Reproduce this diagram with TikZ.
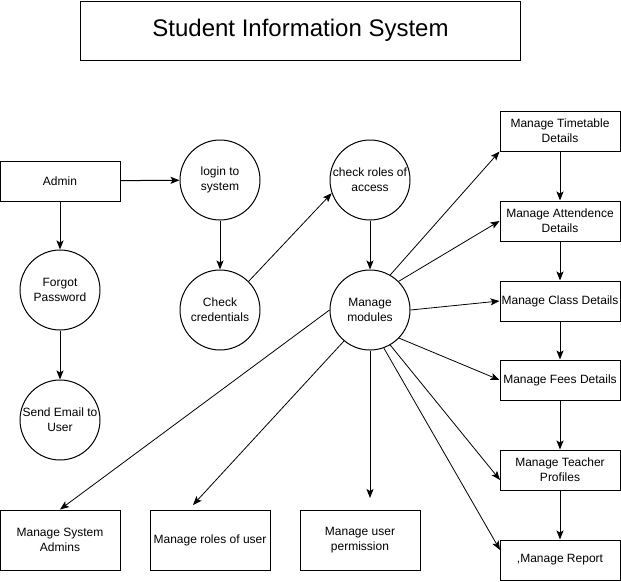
\documentclass[tikz,border=0pt]{standalone}
\usepackage{fontspec}
\setmainfont{Liberation Sans}
\usetikzlibrary{arrows.meta}
\begin{document}
\begin{tikzpicture}[x=1pt,y=-1pt,
  every node/.style={font=\fontsize{12}{15}\selectfont, align=center, inner sep=0pt},
  box/.style={draw, line width=1pt, minimum width=120pt, minimum height=40pt},
  tallbox/.style={box, minimum height=60pt},
  proc/.style={draw, circle, line width=1pt, minimum size=80pt},
  flow/.style={line width=1pt, -{Stealth[length=9pt,width=7pt,inset=2pt]}},
  thin flow/.style={flow, line width=0.8pt}]
\useasboundingbox (0,0) rectangle (621,581);

% title
\node[draw, line width=1pt, minimum width=440pt, minimum height=59pt,
      font=\fontsize{24}{28}\selectfont] (title) at (300.5,30.5) {Student Information System};

% left column
\node[box] (admin) at (60,181) {Admin};
\node[proc] (fp) at (60,290) {Forgot\\Password};
\node[proc] (se) at (60,420) {Send Email to\\User};

% login path
\node[proc] (login) at (220,180) {login to\\system};
\node[proc] (cc) at (220,310) {Check\\credentials};
\node[proc] (cr) at (370,180) {check roles of\\access};
\node[proc] (mm) at (370,310) {Manage\\modules};

% module boxes on the right
\node[box] (tt) at (560,131) {Manage Timetable\\Details};
\node[box] (att) at (560,221) {Manage Attendence\\Details};
\node[box] (cls) at (560,301) {Manage Class Details};
\node[box] (fees) at (560,380) {Manage Fees Details};
\node[box] (tp) at (560,470) {Manage Teacher\\Profiles};
\node[box] (rep) at (560,560) {,Manage Report};

% module boxes at the bottom
\node[tallbox] (sa) at (60,540) {Manage System\\Admins};
\node[tallbox] (rol) at (210,540) {Manage roles of user};
\node[tallbox] (up) at (360,540) {Manage user\\permission};

% free arrow ends
\coordinate (tpin) at (500,480);
\coordinate (repin) at (500,550);
\coordinate (upin) at (370,498);
\coordinate (rolin) at (193,505);

% connectors
\draw[flow] (admin) -- (login);
\draw[flow] (admin) -- (fp);
\draw[flow] (fp) -- (se);
\draw[flow] (login) -- (cc);
\draw[thin flow] (cc.45) -- (cr.199);
\draw[flow] (cr) -- (mm);

\draw[thin flow] (mm.60) -- (tt.south west);
\draw[thin flow] (mm.45) -- (att.west);
\draw[thin flow] (mm.east) -- (cls.west);
\draw[thin flow] (mm.-44) -- (fees.west);
\draw[thin flow] (mm.-60) -- (tpin);
\draw[thin flow] (mm.-70) -- (repin);
\draw[flow] (mm.south) -- (upin);
\draw[thin flow] (mm.230) -- (rolin);
\draw[thin flow] (mm.west) -- (sa.north);

\draw[flow] (tt) -- (att);
\draw[flow] (att) -- (cls);
\draw[flow] (cls) -- (fees);
\draw[flow] (fees) -- (tp);
\draw[flow] (tp) -- (rep);
\end{tikzpicture}
\end{document}
